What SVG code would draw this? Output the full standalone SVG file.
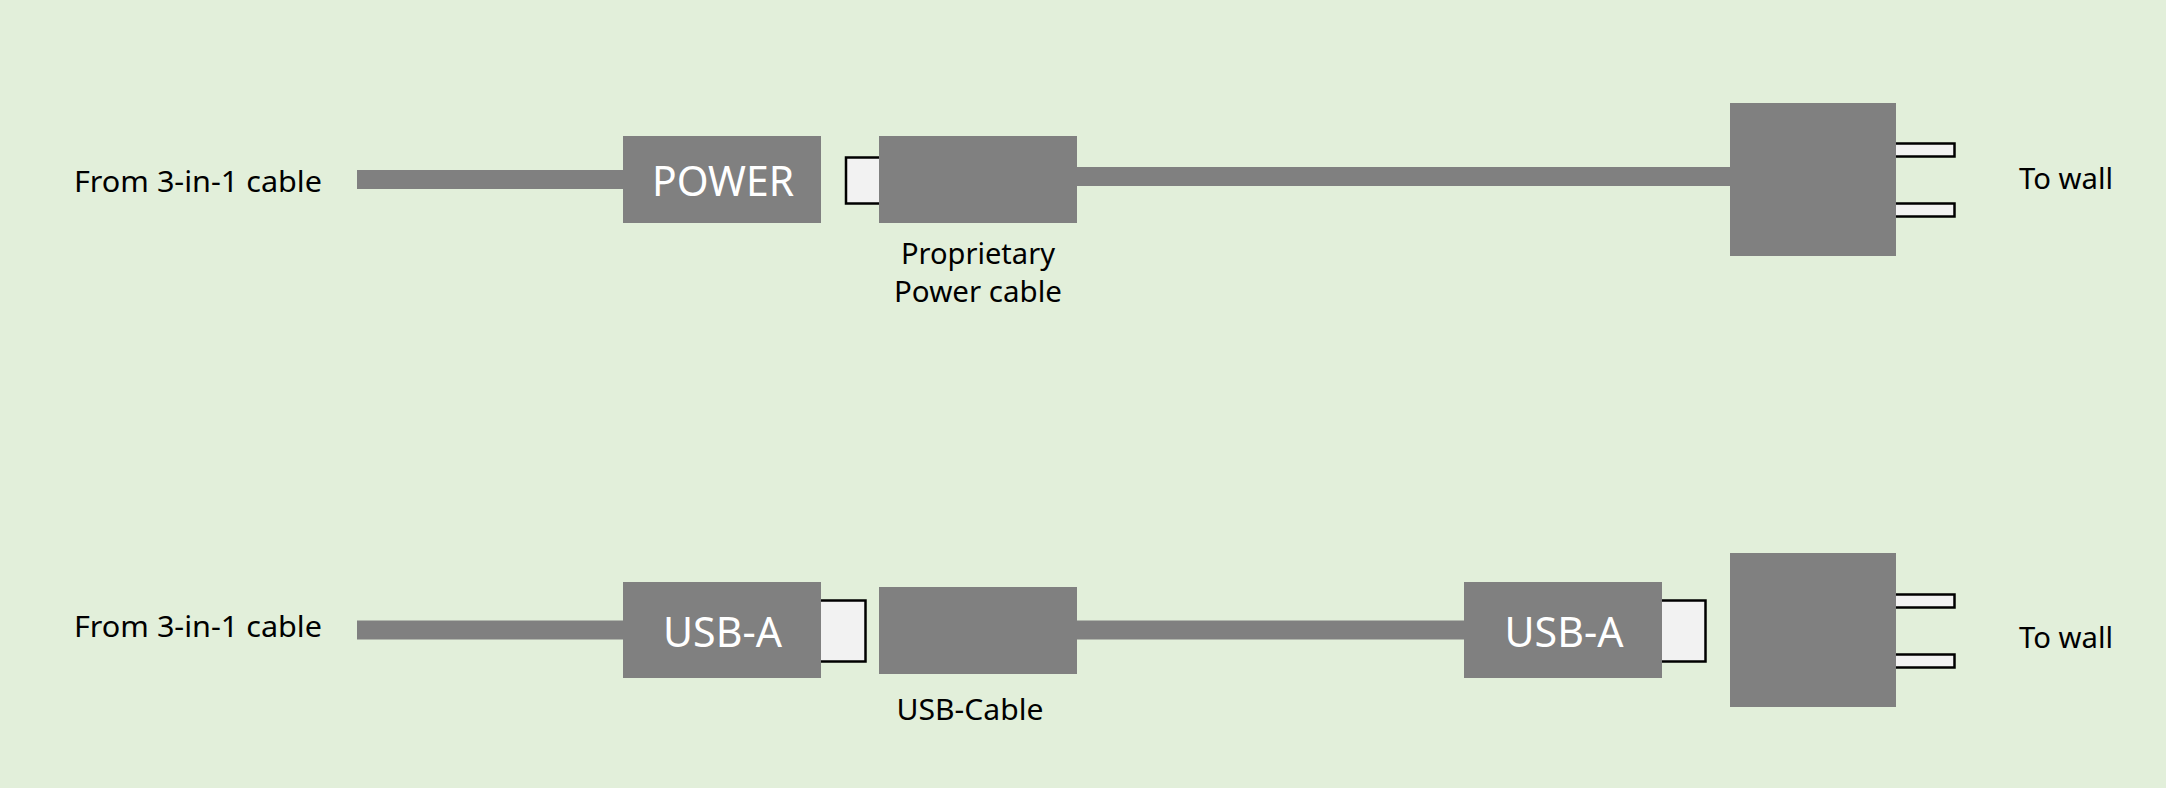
<svg xmlns="http://www.w3.org/2000/svg" width="2166" height="788" viewBox="0 0 2166 788">
<style>
.bg{fill:#E2EFDA}
.body{fill:#808080}
.pin{fill:#F2F2F2;stroke:#000;stroke-width:2.5}
.cable{stroke:#808080;stroke-width:19;fill:none}
.lbl{font-family:"Segoe UI","Noto Sans","Liberation Sans",sans-serif;font-size:29px;fill:#000}
.big{font-family:"Segoe UI","Noto Sans","Liberation Sans",sans-serif;font-size:42px;fill:#fff;text-anchor:middle}
</style>
<rect class="bg" x="0" y="0" width="2166" height="788"/>
<g id="connectors">
<line class="cable" x1="357" y1="179.5" x2="625" y2="179.5"/>
<line class="cable" x1="1075" y1="176.5" x2="1732" y2="176.5"/>
<line class="cable" x1="357" y1="630" x2="625" y2="630"/>
<line class="cable" x1="1075" y1="630" x2="1466" y2="630"/>
</g>
<g id="label-from-top"><text class="lbl" x="74" y="192" textLength="248" lengthAdjust="spacingAndGlyphs">From 3-in-1 cable</text></g>
<g id="power-plug">
<rect class="body" x="623" y="136" width="198" height="87"/>
<text class="big" x="723" y="195.5" textLength="142" lengthAdjust="spacingAndGlyphs">POWER</text>
</g>
<g id="proprietary-cable">
<rect class="pin" x="846" y="157.5" width="40" height="46"/>
<rect class="body" x="879" y="136" width="198" height="87"/>
<text class="lbl" x="978" y="264" text-anchor="middle" textLength="154" lengthAdjust="spacingAndGlyphs">Proprietary</text>
<text class="lbl" x="978" y="302" text-anchor="middle" textLength="168" lengthAdjust="spacingAndGlyphs">Power cable</text>
</g>
<g id="wall-plug-top">
<rect class="pin" x="1880" y="143.5" width="74.5" height="13"/>
<rect class="pin" x="1880" y="203.5" width="74.5" height="13"/>
<rect class="body" x="1730" y="103" width="166" height="153"/>
</g>
<g id="label-wall-top"><text class="lbl" x="2019" y="189" textLength="94" lengthAdjust="spacingAndGlyphs">To wall</text></g>
<g id="label-from-bottom"><text class="lbl" x="74" y="636.5" textLength="248" lengthAdjust="spacingAndGlyphs">From 3-in-1 cable</text></g>
<g id="usb-a-left">
<rect class="pin" x="810" y="600.5" width="55.5" height="61"/>
<rect class="body" x="623" y="582" width="198" height="96"/>
<text class="big" x="722.5" y="646.5" textLength="119" lengthAdjust="spacingAndGlyphs">USB-A</text>
</g>
<g id="usb-cable">
<rect class="body" x="879" y="587" width="198" height="87"/>
<text class="lbl" x="970" y="720" text-anchor="middle" textLength="147" lengthAdjust="spacingAndGlyphs">USB-Cable</text>
</g>
<g id="usb-a-right">
<rect class="pin" x="1650" y="600.5" width="55.5" height="61"/>
<rect class="body" x="1464" y="582" width="198" height="96"/>
<text class="big" x="1564" y="646.5" textLength="119" lengthAdjust="spacingAndGlyphs">USB-A</text>
</g>
<g id="wall-plug-bottom">
<rect class="pin" x="1880" y="594.5" width="74.5" height="13"/>
<rect class="pin" x="1880" y="654.5" width="74.5" height="13"/>
<rect class="body" x="1730" y="553" width="166" height="154"/>
</g>
<g id="label-wall-bottom"><text class="lbl" x="2019" y="647.5" textLength="94" lengthAdjust="spacingAndGlyphs">To wall</text></g>
</svg>
